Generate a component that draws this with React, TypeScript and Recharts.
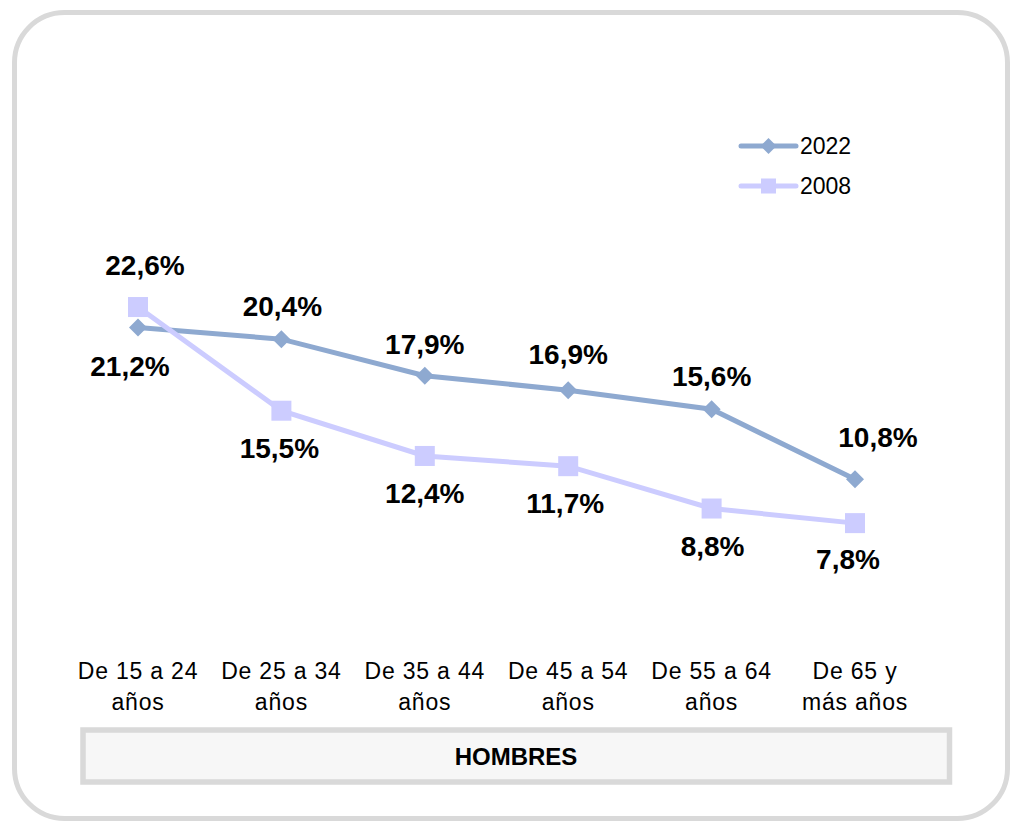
import React from "react";
import { LineChart, Line, XAxis, YAxis, Legend, LabelList } from "recharts";

// age groups (line break marks the second text row)
const categories = [
  "De 15 a 24\naños",
  "De 25 a 34\naños",
  "De 35 a 44\naños",
  "De 45 a 54\naños",
  "De 55 a 64\naños",
  "De 65 y\nmás años",
];

// % values, men
const values2022 = [21.2, 20.4, 17.9, 16.9, 15.6, 10.8];
const values2008 = [22.6, 15.5, 12.4, 11.7, 8.8, 7.8];

const seriesNames = ["2022", "2008"];
const panelTitle = "HOMBRES";

const COLOR_2022 = "#8EA9D0";
const COLOR_2008 = "#CCCCFF";
const FONT = "'Liberation Sans', Arial, sans-serif";

const data = categories.map((cat, i) => ({
  cat,
  y2022: values2022[i],
  y2008: values2008[i],
}));

const fmt = (v: number) => v.toFixed(1).replace(".", ",") + "%";

// label offsets [dx, dy] relative to the point (text baseline)
const labelOffsets2022: [number, number][] = [
  [-8, 49],
  [1, -23],
  [0, -22],
  [0, -26],
  [0, -23],
  [23, -32],
];
const labelOffsets2008: [number, number][] = [
  [7, -32],
  [-2, 47],
  [0, 47],
  [-3, 47],
  [1, 47],
  [-7, 46],
];

const makeLabel = (offsets: [number, number][]) => (props: any) => {
  const { x, y, value, index } = props;
  const [dx, dy] = offsets[index] || [0, -25];
  return (
    <text
      x={x + dx}
      y={y + dy}
      textAnchor="middle"
      fontFamily={FONT}
      fontWeight="bold"
      fontSize={28}
      fill="#000"
    >
      {fmt(value)}
    </text>
  );
};

const Diamond = (props: any) => {
  const { cx, cy, fill } = props;
  if (cx == null || cy == null) return null;
  const r = 9;
  return (
    <path
      d={`M${cx},${cy - r} L${cx + r},${cy} L${cx},${cy + r} L${cx - r},${cy} Z`}
      fill={fill}
    />
  );
};

const Square = (props: any) => {
  const { cx, cy, fill } = props;
  if (cx == null || cy == null) return null;
  const s = 20;
  return <rect x={cx - s / 2} y={cy - s / 2} width={s} height={s} fill={fill} />;
};

const CategoryTick = (props: any) => {
  const { x, y, payload } = props;
  const lines = String(payload.value).split("\n");
  return (
    <g>
      {lines.map((l, i) => (
        <text
          key={i}
          x={x}
          y={y + 42 + i * 31}
          textAnchor="middle"
          fontFamily={FONT}
          fontSize={23}
          letterSpacing={0.8}
          fill="#000"
        >
          {l}
        </text>
      ))}
    </g>
  );
};

const LegendBox = () => (
  <svg width={130} height={80}>
    <line x1={6} y1={21} x2={61} y2={21} stroke={COLOR_2022} strokeWidth={5} strokeLinecap="round" />
    <path d="M33.5,13 L41.5,21 L33.5,29 L25.5,21 Z" fill={COLOR_2022} />
    <text x={65} y={29} fontFamily={FONT} fontSize={23} fill="#000">
      {seriesNames[0]}
    </text>
    <line x1={6} y1={61} x2={61} y2={61} stroke={COLOR_2008} strokeWidth={5} strokeLinecap="round" />
    <rect x={26} y={53.5} width={15} height={15} fill={COLOR_2008} />
    <text x={65} y={69} fontFamily={FONT} fontSize={23} fill="#000">
      {seriesNames[1]}
    </text>
  </svg>
);

export default function App() {
  return (
    <div
      style={{
        position: "absolute",
        left: 0,
        top: 0,
        width: 1010,
        height: 822,
        background: "#fff",
        fontFamily: FONT,
      }}
    >
      <svg width={1010} height={822} style={{ position: "absolute", left: 0, top: 0 }}>
        <rect
          x={14.5}
          y={12.5}
          width={993}
          height={806}
          rx={50}
          ry={50}
          fill="#fff"
          stroke="#d9d9d9"
          strokeWidth={5}
        />
        <rect
          x={83}
          y={730}
          width={866.5}
          height={52}
          fill="#f7f7f7"
          stroke="#d9d9d9"
          strokeWidth={5.5}
        />
        <text
          x={516}
          y={765}
          textAnchor="middle"
          fontFamily={FONT}
          fontWeight="bold"
          fontSize={24}
          fill="#000"
        >
          {panelTitle}
        </text>
      </svg>
      <div style={{ position: "absolute", left: 0, top: 0 }}>
        <LineChart
          width={1010}
          height={822}
          data={data}
          margin={{ top: 199, right: 155, bottom: 105, left: 138 }}
        >
          <XAxis
            dataKey="cat"
            axisLine={false}
            tickLine={false}
            tickSize={0}
            tickMargin={0}
            height={80}
            interval={0}
            tick={<CategoryTick />}
          />
          <YAxis hide domain={[0, 30]} />
          <Legend
            layout="horizontal"
            verticalAlign="middle"
            content={<LegendBox />}
            wrapperStyle={{ position: "absolute", left: 735, top: 125, width: 130 }}
          />
          <Line
            dataKey="y2022"
            name={seriesNames[0]}
            stroke={COLOR_2022}
            strokeWidth={5}
            dot={<Diamond fill={COLOR_2022} />}
            activeDot={false}
            isAnimationActive={false}
          >
            <LabelList dataKey="y2022" content={makeLabel(labelOffsets2022)} />
          </Line>
          <Line
            dataKey="y2008"
            name={seriesNames[1]}
            stroke={COLOR_2008}
            strokeWidth={5}
            dot={<Square fill={COLOR_2008} />}
            activeDot={false}
            isAnimationActive={false}
          >
            <LabelList dataKey="y2008" content={makeLabel(labelOffsets2008)} />
          </Line>
        </LineChart>
      </div>
    </div>
  );
}
